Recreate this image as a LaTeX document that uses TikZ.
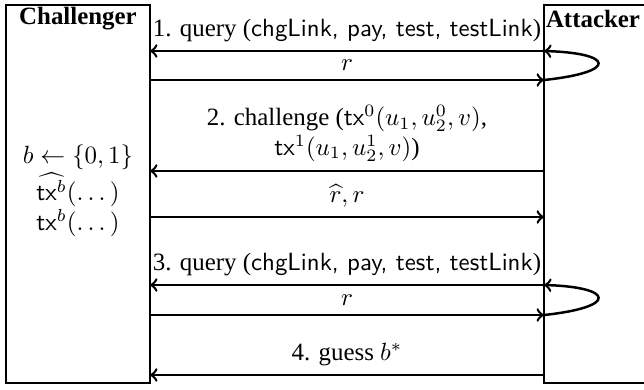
\documentclass[tikz,border=0pt]{standalone}
\usepackage{amsmath}
\usepackage[no-math]{fontspec}
\setmainfont{Liberation Serif}
\usetikzlibrary{calc}

\begin{document}
\begin{tikzpicture}[x=0.4016pt,y=-0.4016pt,line width=1pt,
    msg/.style={->},
    loopback/.style={->}]
  \useasboundingbox (0,0) rectangle (644,389);
  % the two parties
  \draw (6,5) rectangle (150,383);
  \draw (650,5) -- (544,5) -- (544,383) -- (650,383);
  \node[font=\bfseries] (chal) at (78,19) {Challenger};
  \node[font=\bfseries] (att) at (593,19) {Attacker};
  \node[align=center] (state) at (78,191) {$b \leftarrow \{0,1\}$\\
    $\widehat{\mathsf{tx}^b}(\dots)$\\ $\mathsf{tx}^b(\dots)$};
  % end points of the messages
  \foreach \i/\y in {1/51,2/80,3/171,4/217,5/285,6/315,7/375}{
    \coordinate (c\i) at (150,\y);
    \coordinate (a\i) at (544,\y);
  }
  \draw[msg] (a1) -- node[above]{1. query (\textsf{chgLink, pay, test, testLink})} (c1);
  \draw[msg] (c2) -- node[above]{$r$} (a2);
  \draw[loopback] (a2) .. controls +(75,-8) and +(70,2) .. (a1);
  \draw[msg] (a3) -- node[above,align=center]{2. challenge ($\mathsf{tx}^0(u_1,u_2^0,v)$,\\
    $\mathsf{tx}^1(u_1,u_2^1,v)$)} (c3);
  \draw[msg] (c4) -- node[above]{$\widehat{r},r$} (a4);
  \draw[msg] (a5) -- node[above]{3. query (\textsf{chgLink, pay, test, testLink})} (c5);
  \draw[msg] (c6) -- node[above]{$r$} (a6);
  \draw[loopback] (a6) .. controls +(75,-8) and +(70,2) .. (a5);
  \draw[msg] (a7) -- node[above]{4. guess $b^*$} (c7);
\end{tikzpicture}
\end{document}
